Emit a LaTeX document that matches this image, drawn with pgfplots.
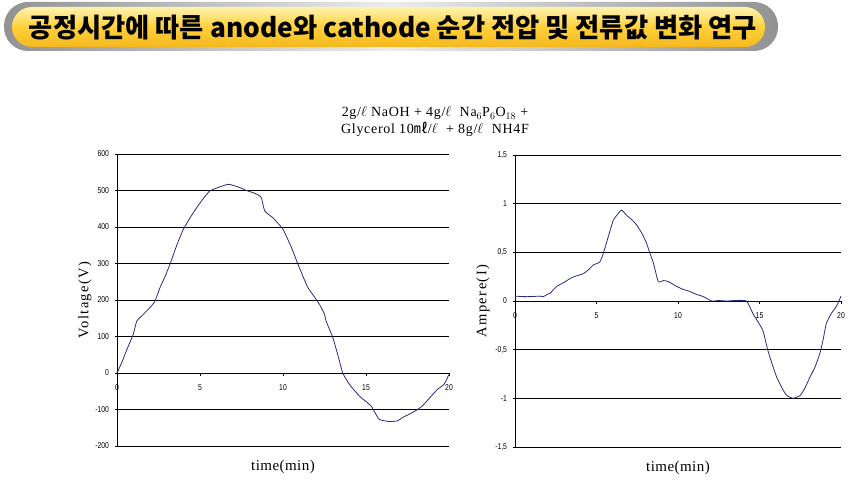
\documentclass[border=0pt]{standalone}
\usepackage{fontspec}
\usepackage{graphicx}
\usepackage{pgfplots}
\pgfplotsset{compat=1.18}
\setmainfont{Liberation Serif}
\newfontfamily\sansf{Liberation Sans}[FakeStretch=0.8]
\newfontfamily\cjk{Noto Sans CJK KR}
\definecolor{navy}{HTML}{2B2B80}
\definecolor{ytop}{HTML}{FFF3B0}
\definecolor{ymid}{HTML}{FFD03A}
\definecolor{ybot}{HTML}{F4B81E}
\pgfplotsset{
  excel/.style={
    scale only axis,
    anchor=south west,
    xmin=0, xmax=20,
    axis x line=middle, axis y line=left,
    axis line style={-, black, line width=0.8pt},
    ymajorgrids, grid style={black, line width=0.8pt},
    xtick={0,5,10,15,20},
    tick align=outside,
    major tick length=2.5pt,
    tick style={black, line width=0.6pt},
    hide obscured x ticks=false, hide obscured y ticks=false,
    tick label style={font=\sansf\fontsize{8.5}{9}\selectfont},
    /pgf/number format/assume math mode=true,
    xticklabel style={anchor=north, yshift=-6pt},
    yticklabel style={anchor=east, xshift=-2pt},
    xlabel style={at={(axis description cs:0.5,0)}, anchor=north, yshift=-11pt, font=\fontsize{15}{16}\selectfont\addfontfeatures{LetterSpace=3}},
    ylabel style={at={(axis description cs:0,0.5)}, anchor=south, rotate=0, yshift=22pt, font=\fontsize{14.5}{15}\selectfont\addfontfeatures{LetterSpace=10}},
    clip=false,
  }
}
\begin{document}
\begin{tikzpicture}
\path (0pt,0pt) rectangle (862pt,496pt);
% banner
\shade[rounded corners=24pt, left color=gray!85, right color=gray!85, middle color=gray!15] (4pt,445pt) rectangle (778pt,494pt);
\shade[rounded corners=20pt, top color=ytop, bottom color=ybot, middle color=ymid] (12pt,449pt) rectangle (765pt,489pt);
\node at (393pt,468pt) {\resizebox*{728pt}{25pt}{\cjk\bfseries 공정시간에 따른 anode와 cathode 순간 전압 및 전류값 변화 연구}};
% caption
\node[align=center, font=\fontsize{14}{17}\selectfont\addfontfeatures{LetterSpace=5}] at (435pt,374pt) {2g/$\ell$ NaOH + 4g/$\ell$\ \ Na$_6$P$_6$O$_{18}$ +\\Glycerol 10{\cjk ㎖}/$\ell$\ \ + 8g/$\ell$\ \ NH4F};
\begin{axis}[excel, at={(117pt,50pt)}, width=332pt, height=292pt,
  ymin=-200, ymax=600, ytick={-200,-100,...,600},
  xlabel={time(min)}, ylabel={Voltage(V)}]
\addplot[navy, line width=0.8pt, smooth, tension=0.3] coordinates {
(0,0) (0.3,30) (0.6,65) (0.98,106) (1.19,142) (1.59,161) (2.0,180) (2.29,197)
(2.59,234) (2.9,265) (3.19,298) (3.6,350) (4.0,394) (4.4,425) (4.8,453) (5.2,478)
(5.6,499) (6.2,510) (6.7,517) (7.0,514) (7.4,508) (7.8,500) (8.2,494) (8.5,488)
(8.7,480) (8.9,444) (9.4,425) (9.7,410) (10.0,394) (10.5,345) (10.9,298) (11.2,265)
(11.5,234) (11.9,208) (12.2,188) (12.5,161) (12.6,142) (13.0,97) (13.3,50) (13.6,0)
(14.0,-31) (14.6,-63) (15.0,-78) (15.3,-90) (15.5,-105) (15.8,-127) (16.4,-133)
(16.9,-131) (17.2,-122) (17.6,-113) (18.0,-103) (18.4,-90) (18.8,-70) (19.3,-45)
(19.7,-31) (20,-4)};
\end{axis}
\begin{axis}[excel, at={(515pt,49pt)}, width=326pt, height=292pt,
  ymin=-1.5, ymax=1.5, ytick={-1.5,-1,...,1.5},
  /pgf/number format/.cd, use comma, fixed, /pgfplots/.cd,
  xlabel={time(min)}, ylabel={Ampere(I)}]
\addplot[navy, line width=0.8pt, smooth, tension=0.3] coordinates {
(0,0.05) (0.5,0.045) (1.0,0.045) (1.5,0.05) (1.74,0.045) (2.0,0.07) (2.15,0.08)
(2.56,0.15) (3.0,0.19) (3.37,0.23) (3.8,0.26) (4.19,0.28) (4.5,0.32) (4.8,0.37)
(5.2,0.40) (5.42,0.49) (5.72,0.66) (6.03,0.83) (6.34,0.90) (6.54,0.935) (6.85,0.88)
(7.2,0.83) (7.47,0.78) (7.8,0.69) (8.08,0.59) (8.3,0.48) (8.49,0.39) (8.79,0.20)
(9.1,0.21) (9.4,0.20) (9.92,0.15) (10.3,0.12) (10.7,0.10) (11.1,0.07) (11.55,0.045)
(12.07,0.0) (12.5,0.005) (13.0,0.0) (13.5,0.005) (14.2,0.0) (14.6,-0.13) (15.2,-0.30)
(15.5,-0.50) (15.8,-0.66) (16.05,-0.78) (16.4,-0.90) (16.67,-0.97) (17.07,-1.0)
(17.5,-0.97) (17.8,-0.89) (18.1,-0.78) (18.4,-0.68) (18.7,-0.54) (18.9,-0.40)
(19.1,-0.23) (19.4,-0.13) (19.7,-0.06) (19.9,0.01) (20,0.05)};
\end{axis}
\end{tikzpicture}
\end{document}
